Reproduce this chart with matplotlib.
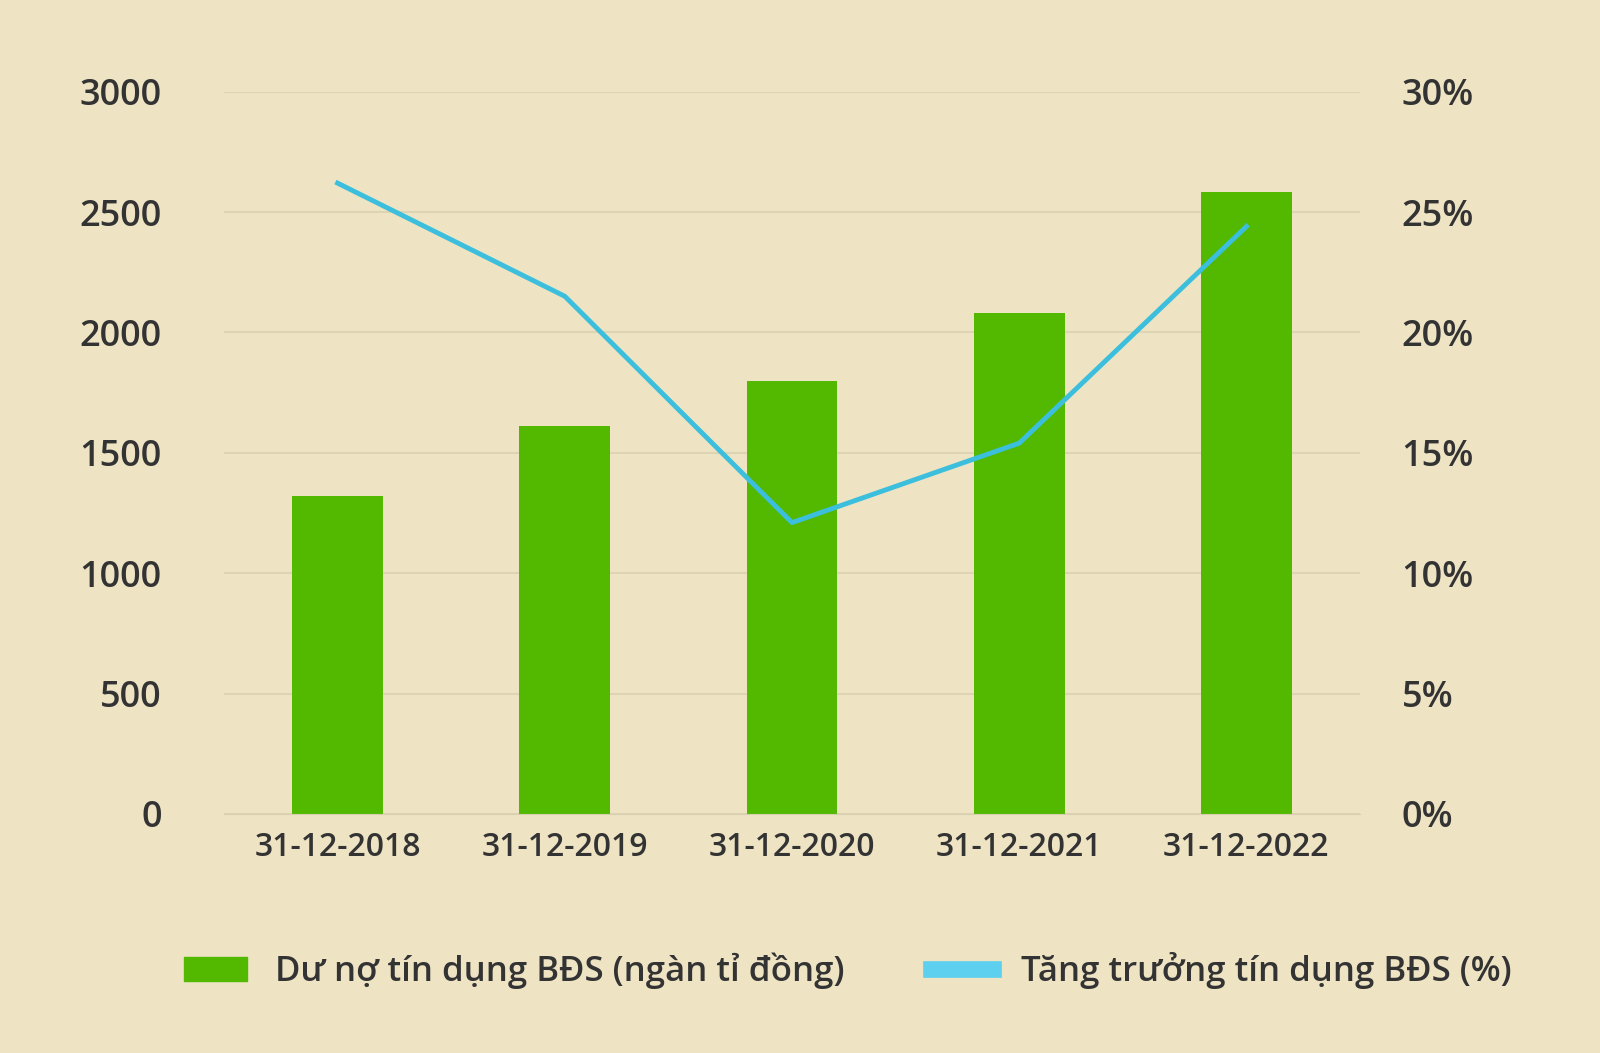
import matplotlib
matplotlib.use("Agg")
import matplotlib.pyplot as plt
from matplotlib.patches import Patch
from matplotlib.lines import Line2D
from matplotlib.ticker import FuncFormatter

categories = ["31-12-2018", "31-12-2019", "31-12-2020", "31-12-2021", "31-12-2022"]
credit = [1320, 1610, 1800, 2080, 2585]
growth = [26.2, 21.5, 12.1, 15.4, 24.4]
bar_label = "Dư nợ tín dụng BĐS (ngàn tỉ đồng)"
line_label = "Tăng trưởng tín dụng BĐS (%)"

bg = "#EEE4C4"
plt.rcParams['font.family'] = ['Open Sans', 'DejaVu Sans']
fig = plt.figure(figsize=(16, 10.53), dpi=100, facecolor=bg)
ax = fig.add_axes([0.14, 0.227, 0.71, 0.686], facecolor=bg)
x = range(len(categories))
ax.bar(x, credit, width=0.4, color="#52B800", zorder=2)
ax.set_ylim(0, 3000)
ax.set_yticks(range(0, 3001, 500))
ax.set_xlim(-0.5, 4.5)
ax.set_xticks(list(x))
ax.set_xticklabels(categories)
ax.grid(axis="y", color="#DDD4B4", linewidth=1.5, zorder=0)
for s in ax.spines.values():
    s.set_visible(False)
ax.spines["bottom"].set_visible(True)
ax.spines["bottom"].set_color("#D8CFB0")
ax.tick_params(length=0, colors="#333333")
ax.tick_params(axis="y", labelsize=26, pad=45)
ax.tick_params(axis="x", labelsize=23, pad=12)
for t in ax.get_xticklabels() + ax.get_yticklabels():
    t.set_fontweight("semibold")

ax2 = ax.twinx()
ax2.plot(x, growth, color="#3CBFDD", linewidth=3.5, zorder=3)
ax2.set_ylim(0, 30)
ax2.set_yticks(range(0, 31, 5))
ax2.yaxis.set_major_formatter(FuncFormatter(lambda v, p: f"{int(v)}%"))
for s in ax2.spines.values():
    s.set_visible(False)
ax2.tick_params(length=0, colors="#333333", labelsize=26, pad=30)
for t in ax2.get_yticklabels():
    t.set_fontweight("semibold")

handles = [Patch(color="#52B800"), Line2D([], [], color="#5DD0F0", linewidth=12)]
fig.legend(handles, [bar_label, line_label], loc="center", bbox_to_anchor=(0.53, 0.078),
           ncol=2, frameon=False, handlelength=1.8, columnspacing=2.5,
           labelcolor="#333333", prop={'size': 25, 'weight': 'semibold'})
fig.savefig("out.png", facecolor=bg)
